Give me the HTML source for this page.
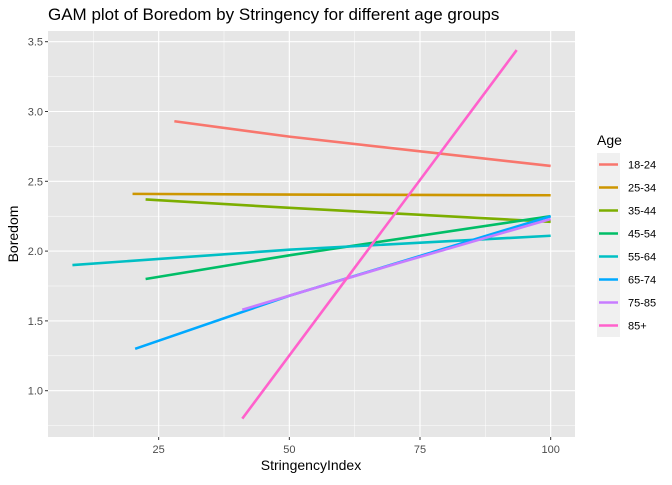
<!DOCTYPE html>
<html><head><meta charset="utf-8"><style>
body{margin:0;background:#fff;font-family:"Liberation Sans",Arial,sans-serif}
svg text{font-family:"Liberation Sans",Arial,sans-serif}
</style></head><body>
<svg id="c" width="672" height="480">
<text x="48" y="20" font-size="17" fill="#000">GAM plot of Boredom by Stringency for different age groups</text>
<rect x="48" y="31" width="527" height="406" fill="#e6e6e6"/>
<g id="grid"></g><g id="axes"></g><g id="series"></g>
<text x="311" y="470" font-size="14" text-anchor="middle">StringencyIndex</text>
<text transform="translate(18,234) rotate(-90)" font-size="14" text-anchor="middle">Boredom</text>
<text x="597" y="145" font-size="14">Age</text>
<rect x="597" y="153" width="23" height="184" fill="#f0f0f0"/>
<g id="legend"></g>
</svg>
<script>
const groups=["18-24","25-34","35-44","45-54","55-64","65-74","75-85","85+"];
const colors=["#F8766D","#CD9600","#7CAE00","#00BE67","#00BFC4","#00A9FF","#C77CFF","#FF61CC"];
const xStart=[28,20,22.5,22.5,8.5,20.5,41,41];
const xMid=[50,50,50,50,50,50,70.5,60];
const xEnd=[100,100,100,100,100,100,100,93.5];
const yStart=[2.93,2.41,2.37,1.80,1.90,1.30,1.58,0.80];
const yMid=[2.82,2.405,2.31,1.97,2.01,1.68,1.91,1.755];
const yEnd=[2.61,2.40,2.21,2.25,2.11,2.25,2.23,3.44];
const xTicks=[25,50,75,100];
const yTicks=[1.0,1.5,2.0,2.5,3.0,3.5];
const NS="http://www.w3.org/2000/svg";
const X=v=>28+(v)*5.2267, Y=v=>390.7-(v-1)*139.6;
function mk(t,a,p){const e=document.createElementNS(NS,t);for(const k in a)e.setAttribute(k,a[k]);p.appendChild(e);return e;}
const g=document.getElementById('grid'),ax=document.getElementById('axes'),s=document.getElementById('series'),lg=document.getElementById('legend');
[12.5,37.5,62.5,87.5].forEach(t=>{
 const m=mk('line',{x1:X(t),x2:X(t),y1:31,y2:437,stroke:'#fff','stroke-width':0.5},g);
 
 
});
xTicks.forEach(t=>{
 const l=mk('line',{x1:X(t),x2:X(t),y1:31,y2:437,stroke:'#fff','stroke-width':1.1},g);
 
 
 mk('line',{x1:X(t),x2:X(t),y1:437,y2:440,stroke:'#333'},ax);
 const tx=mk('text',{x:X(t),y:453,'font-size':11,'text-anchor':'middle',fill:'#4d4d4d'},ax);tx.textContent=t;
 
 
});
[0.75,1.25,1.75,2.25,2.75,3.25].forEach(t=>{
 const m=mk('line',{x1:48,x2:575,y1:Y(t),y2:Y(t),stroke:'#fff','stroke-width':0.5},g);
 
 
});
yTicks.forEach(t=>{
 const l=mk('line',{x1:48,x2:575,y1:Y(t),y2:Y(t),stroke:'#fff','stroke-width':1.1},g);
 
 
 mk('line',{x1:45,x2:48,y1:Y(t),y2:Y(t),stroke:'#333'},ax);
 const tx=mk('text',{x:43,y:Y(t)+4,'font-size':11,'text-anchor':'end',fill:'#4d4d4d'},ax);tx.textContent=t.toFixed(1);
 
 
});
groups.forEach((n,i)=>{
 const p=mk('polyline',{points:`${X(xStart[i])},${Y(yStart[i])} ${X(xMid[i])},${Y(yMid[i])} ${X(xEnd[i])},${Y(yEnd[i])}`,fill:'none',stroke:colors[i],'stroke-width':2.6,'stroke-linejoin':'round'},s);
 
 
 const ly=164.5+i*23;
 const k=mk('line',{x1:599,x2:618,y1:ly,y2:ly,stroke:colors[i],'stroke-width':2.6},lg);
 
 
 const t=mk('text',{x:628,y:ly+4,'font-size':11},lg);t.textContent=n;
 
 
});
</script>
</body></html>
